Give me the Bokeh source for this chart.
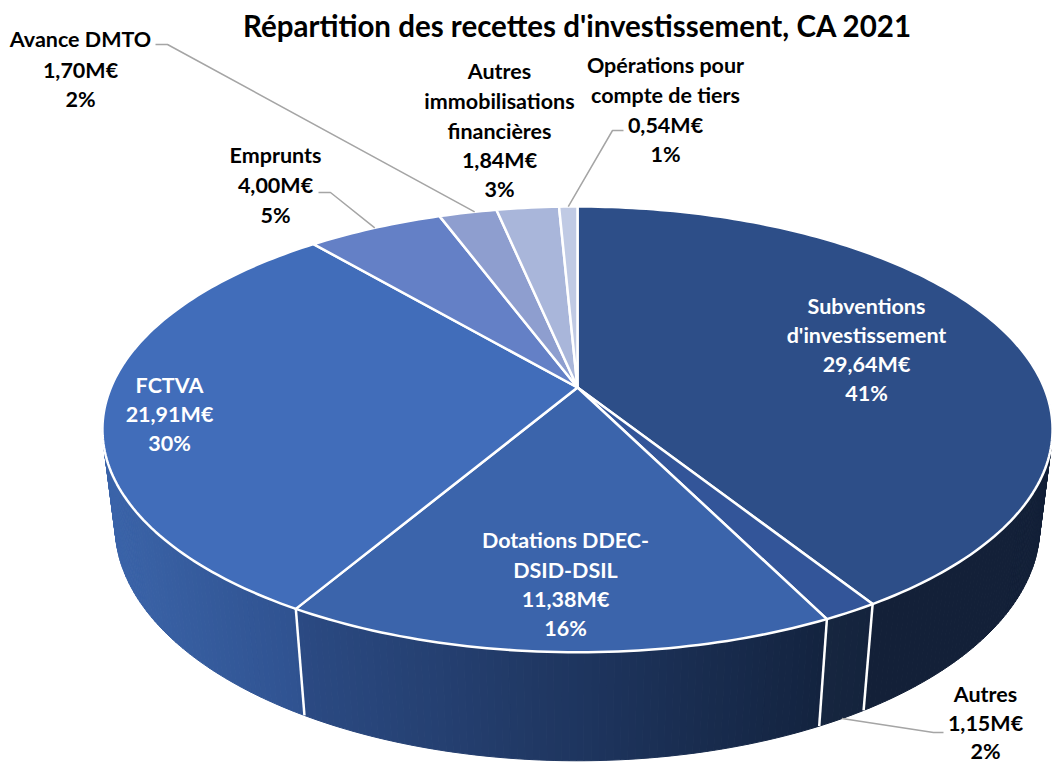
import math
from bokeh.plotting import figure
from bokeh.models import Range1d, ColumnDataSource
from bokeh.core.properties import value
from bokeh.embed import file_html
from bokeh.resources import INLINE

# ---- data (clockwise from 12 o'clock) ----
categories = ["Subventions d'investissement", "Autres", "Dotations DDEC-DSID-DSIL", "FCTVA",
              "Emprunts", "Avance DMTO", "Autres immobilisations financières",
              "Opérations pour compte de tiers"]
amounts = [29.64, 1.15, 11.38, 21.91, 4.00, 1.70, 1.84, 0.54]
amount_labels = ["29,64M€", "1,15M€", "11,38M€", "21,91M€", "4,00M€", "1,70M€", "1,84M€", "0,54M€"]
percent_labels = ["41%", "2%", "16%", "30%", "5%", "2%", "3%", "1%"]
title_text = "Répartition des recettes d'investissement, CA 2021"

# ---- styles ----
top_colors = ["#2D4E88", "#335599", "#3B64AB", "#416DBA", "#6480C6", "#8E9ECF", "#A9B6DA", "#C0CAE4"]
side_left = ["#132038", "#16263F", "#2B4A83", "#3B64A9", "#5570AE", "#7C8BB5", "#95A0BF", "#A9B2C8"]
side_right = ["#132038", "#14233D", "#13233F", "#2F5290", "#5570AE", "#7C8BB5", "#95A0BF", "#A9B2C8"]

# ---- layout: name lines, centre x, line centre ys, colour ----
label_layout = [
    (["Subventions", "d'investissement"], 866, [305, 334, 363, 392], "white"),
    (["Autres"], 985, [693, 722, 750], "black"),
    (["Dotations DDEC-", "DSID-DSIL"], 565, [539, 569, 598, 627], "white"),
    (["FCTVA"], 169, [384, 413, 442], "white"),
    (["Emprunts"], 275, [154, 184, 214], "black"),
    (["Avance DMTO"], 80, [38, 69, 98], "black"),
    (["Autres", "immobilisations", "financières"], 499, [70, 100, 130, 159, 188], "black"),
    (["Opérations pour", "compte de tiers"], 665, [64, 94, 124, 153], "black"),
]
# leader lines: slice index, fraction along slice, elbow and end points
leaders = [
    (1, 0.5, [(933, 732), (943, 732)], 1.0),
    (4, 0.5, [(330, 192), (318, 192)], 0.0),
    (5, 0.62, [(167, 44), (155, 44)], 0.0),
    (7, 0.5, [(612, 130), (623, 130)], 0.0),
]

# ---- projection: perspective view of a disc of height 1 ----
CX, CY = 577.0, 387.0
R, A, K = 466.6, 215.0, 0.188
M, B = 0.0265, 98.0


def project(t, h=0.0, r=1.0):
    x, y = r * math.sin(t), r * math.cos(t)
    w = 1 + K * y + M * h
    return CX + R * x / w, CY + (-A * y + B * h) / w


def mix(c1, c2, f):
    a = [int(c1[i:i + 2], 16) for i in (1, 3, 5)]
    b = [int(c2[i:i + 2], 16) for i in (1, 3, 5)]
    return "#%02X%02X%02X" % tuple(round(p + (q - p) * f) for p, q in zip(a, b))


total = sum(amounts)
edges = [0.0]
for v in amounts:
    edges.append(edges[-1] + v / total * 2 * math.pi)

p = figure(width=1052, height=762, output_backend="svg", toolbar_location=None,
           x_range=Range1d(0, 1052), y_range=Range1d(762, 0),
           x_axis_location=None, y_axis_location=None, min_border=0,
           outline_line_color=None, background_fill_color="white")
p.grid.visible = False

# side wall, as narrow strips that carry a horizontal gradient
strip_x, strip_y, strip_c = [], [], []
for i, v in enumerate(amounts):
    a0, a1 = edges[i], edges[i + 1]
    n = max(2, int((a1 - a0) * 180 / math.pi / 0.75))
    ts = [a0 + (a1 - a0) * j / n for j in range(n + 1)]
    vis = [t for t in ts if math.cos(t) < 0.15]
    if len(vis) < 2:
        continue
    xs = [project(t, 1)[0] for t in vis]
    lo, hi = min(xs), max(xs)
    for t0, t1 in zip(vis[:-1], vis[1:]):
        q = [project(t0), project(t1), project(t1, 1), project(t0, 1)]
        strip_x.append([c[0] for c in q])
        strip_y.append([c[1] for c in q])
        mid = (project(t0, 1)[0] + project(t1, 1)[0]) / 2
        strip_c.append(mix(side_left[i], side_right[i], (mid - lo) / max(hi - lo, 1)))
p.patches("x", "y", source=ColumnDataSource(dict(x=strip_x, y=strip_y, c=strip_c)),
          fill_color="c", line_color="c", line_width=1)

# white seams on the side wall
seam_x, seam_y = [], []
for t in edges[1:4]:
    seam_x.append([project(t)[0], project(t, 1)[0]])
    seam_y.append([project(t)[1], project(t, 1)[1]])
p.multi_line(seam_x, seam_y, line_color="white", line_width=2.5)

# top face
face_x, face_y = [], []
for i in range(len(amounts)):
    a0, a1 = edges[i], edges[i + 1]
    n = max(4, int((a1 - a0) * 180 / math.pi))
    pts = [project(a0 + (a1 - a0) * j / n) for j in range(n + 1)]
    face_x.append([CX] + [c[0] for c in pts])
    face_y.append([CY] + [c[1] for c in pts])
p.patches(face_x, face_y, fill_color=top_colors, line_color="white", line_width=2.5,
          line_join="round")

# leader lines
for idx, frac, pts, h in leaders:
    t = edges[idx] + (edges[idx + 1] - edges[idx]) * frac
    sx, sy = project(t, h)
    p.line([sx] + [c[0] for c in pts], [sy] + [c[1] for c in pts],
           line_color="#A5A5A5", line_width=1.5)

# labels
tx, ty, tt, tc = [], [], [], []
for i, (names, cx, ys, col) in enumerate(label_layout):
    lines = names + [amount_labels[i], percent_labels[i]]
    for s, y in zip(lines, ys):
        tx.append(cx); ty.append(y); tt.append(s); tc.append(col)
p.text(tx, ty, text=tt, text_color=tc, text_font=value("Lato"), text_font_style="bold",
       text_font_size="21.5px", text_align="center", text_baseline="middle")
p.text([577], [25], text=[title_text], text_color="black", text_font=value("Lato"),
       text_font_style="bold", text_font_size="29.5px", text_align="center", text_baseline="middle")

open("out.html", "w", encoding="utf-8").write(file_html(p, INLINE))
